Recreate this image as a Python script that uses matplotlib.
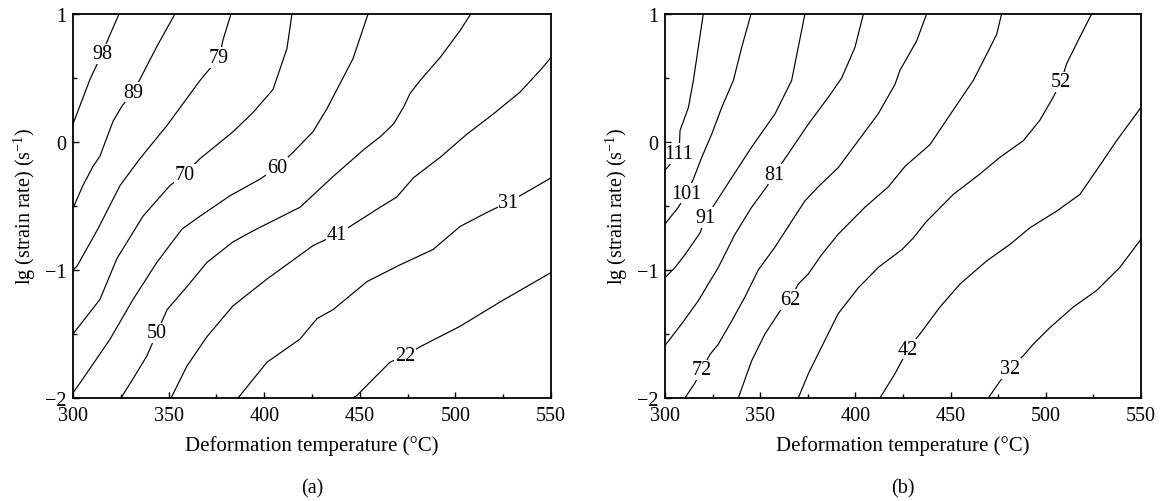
import matplotlib
matplotlib.use("Agg")
import matplotlib.pyplot as plt
from matplotlib.ticker import MultipleLocator

plt.rcParams.update({
    "font.family": ["Liberation Serif", "DejaVu Serif"],
    "font.size": 14,
    "mathtext.fontset": "custom",
    "mathtext.rm": "Liberation Serif",
    "mathtext.it": "Liberation Serif:italic",
})

# contour lines: (temperature degC, lg strain rate)
# panel (a)
a98 = [(300, 0.14), (308.9, 0.49), (315.2, 0.69), (319.4, 0.84), (324.1, 1.0)]
a89 = [(300.5, -0.5), (305.2, -0.34), (310.5, -0.19), (314.1, -0.11), (320.9, 0.16),
       (325.6, 0.28), (331.4, 0.39), (335.0, 0.49), (344.0, 0.75), (353.3, 1.0)]
a79 = [(300, -1.0), (302.1, -0.97), (313.0, -0.68), (324.6, -0.34), (335.0, -0.13),
       (349.2, 0.13), (366.4, 0.48), (376.4, 0.66), (378.5, 0.80), (382.6, 1.0)]
a70 = [(300.5, -1.49), (314.1, -1.23), (323.0, -0.91), (336.6, -0.58), (350.7, -0.34),
       (358.6, -0.25), (366.4, -0.13), (383.7, 0.08), (394.1, 0.23), (404.6, 0.41),
       (411.9, 0.73), (414.5, 1.0)]
a60 = [(300.5, -1.95), (305.2, -1.85), (319.4, -1.54), (331.4, -1.23), (343.9, -0.94),
       (357.0, -0.68), (366.4, -0.58), (382.1, -0.42), (397.8, -0.29), (406.7, -0.2),
       (415.1, -0.08), (425.5, 0.08), (432.8, 0.26), (446.4, 0.65), (454.3, 1.0)]
a50 = [(325.1, -2.0), (331.4, -1.85), (338.7, -1.67), (343.9, -1.49), (349.2, -1.31),
       (359.6, -1.13), (370.1, -0.94), (383.7, -0.78), (396.0, -0.68), (418.7, -0.51),
       (436.0, -0.27), (452.0, -0.06), (460.6, 0.04), (467.6, 0.14), (472.8, 0.27),
       (476.3, 0.38), (481.5, 0.48), (492.0, 0.66), (502.4, 0.87), (508.0, 1.0)]
a41 = [(351.3, -2.0), (359.6, -1.75), (370.1, -1.52), (383.7, -1.28), (401.5, -1.07),
       (425.5, -0.81), (438.1, -0.72), (444.9, -0.66), (460.6, -0.51), (469.3, -0.43),
       (478.0, -0.28), (492.0, -0.12), (505.9, 0.06), (519.9, 0.22), (533.8, 0.39),
       (544.3, 0.56), (550, 0.66)]
a31 = [(386.3, -2.0), (401.5, -1.72), (418.7, -1.54), (427.6, -1.38), (436.0, -1.31),
       (453.8, -1.09), (471.0, -0.96), (488.3, -0.84), (502.4, -0.66), (516.5, -0.55),
       (527.7, -0.47), (533.8, -0.42), (550, -0.28)]
a22 = [(446.4, -2.0), (448.5, -1.98), (465.8, -1.72), (473.6, -1.67), (481.5, -1.6),
       (502.4, -1.44), (523.3, -1.25), (550, -1.02)]
A_LINES = [a98, a89, a79, a70, a60, a50, a41, a31, a22]
A_LEVELS = [98, 89, 79, 70, 60, 50, 41, 31, 22]
A_LABEL_T = [315.2, 331.4, 376.4, 358.6, 406.7, 343.9, 438.1, 527.7, 473.6]
A_LABEL_LG = [0.69, 0.39, 0.66, -0.25, -0.2, -1.49, -0.72, -0.47, -1.67]

# panel (b)
b111 = [(320.1, 1.0), (317.5, 0.74), (314.9, 0.48), (312.3, 0.27), (307.9, 0.09),
        (307.4, -0.09), (301.8, -0.19), (300, -0.22)]
b101 = [(345.2, 1.0), (340.3, 0.74), (335.9, 0.48), (329.8, 0.27), (324.5, 0.06),
        (319.3, -0.12), (314.9, -0.29), (311.4, -0.4), (307.0, -0.51), (300, -0.64)]
b91 = [(373.5, 1.0), (370.0, 0.74), (366.5, 0.48), (357.8, 0.22), (345.5, -0.04),
       (335.0, -0.28), (326.3, -0.48), (321.5, -0.59), (318.4, -0.71), (310.5, -0.88),
       (305.3, -0.98), (300, -1.06)]
b81 = [(404.2, 1.0), (399.8, 0.74), (392.8, 0.5), (385.8, 0.35), (375.3, 0.14),
       (363.0, -0.13), (357.4, -0.25), (353.4, -0.35), (345.5, -0.51), (336.8, -0.72),
       (328.0, -0.98), (317.5, -1.24), (308.8, -1.42), (300, -1.59)]
b72 = [(437.4, 1.0), (432.2, 0.79), (423.4, 0.56), (420.8, 0.45), (412.0, 0.22),
       (401.5, 0.01), (391.0, -0.2), (380.5, -0.35), (373.5, -0.46), (366.5, -0.62),
       (357.8, -0.82), (349.0, -1.0), (342.0, -1.21), (335.0, -1.4), (328.0, -1.58),
       (323.6, -1.66), (319.3, -1.78), (315.8, -1.88), (310.5, -2.0)]
b62 = [(476.8, 1.0), (474.2, 0.84), (469.8, 0.71), (461.9, 0.48), (451.4, 0.25),
       (439.2, -0.02), (426.1, -0.19), (417.3, -0.35), (405.0, -0.51), (391.0, -0.72),
       (382.3, -0.88), (375.3, -1.03), (370.0, -1.11), (365.7, -1.23), (360.4, -1.32),
       (352.5, -1.5), (345.5, -1.71), (338.5, -2.0)]
b52 = [(524.1, 1.0), (517.9, 0.82), (510.9, 0.61), (508.0, 0.47), (503.9, 0.35),
       (496.9, 0.17), (488.2, 0.01), (475.9, -0.12), (465.4, -0.25), (451.4, -0.41),
       (437.4, -0.62), (430.4, -0.75), (424.5, -0.84), (412.0, -0.98), (401.5, -1.14),
       (391.0, -1.34), (382.3, -1.6), (375.3, -1.81), (370.0, -2.0)]
b42 = [(550, 0.27), (537.2, 0.01), (526.7, -0.22), (517.9, -0.41), (505.7, -0.54),
       (491.7, -0.67), (481.2, -0.8), (468.9, -0.93), (454.9, -1.11), (444.4, -1.29),
       (433.9, -1.5), (427.6, -1.62), (420.8, -1.81), (412.9, -2.0)]
b32 = [(550, -0.76), (538.9, -0.98), (526.7, -1.16), (514.4, -1.29), (502.2, -1.45),
       (493.4, -1.58), (488.2, -1.67), (481.2, -1.77), (475.9, -1.87), (469.8, -2.0)]
B_LINES = [b111, b101, b91, b81, b72, b62, b52, b42, b32]
B_LEVELS = [111, 101, 91, 81, 72, 62, 52, 42, 32]
B_LABEL_T = [307.4, 311.4, 321.5, 357.4, 319.3, 365.7, 508.0, 427.6, 481.2]
B_LABEL_LG = [-0.09, -0.4, -0.59, -0.25, -1.78, -1.23, 0.47, -1.62, -1.77]

PANELS = [
    ("(a)", A_LINES, A_LEVELS, A_LABEL_T, A_LABEL_LG),
    ("(b)", B_LINES, B_LEVELS, B_LABEL_T, B_LABEL_LG),
]


def draw_panel(ax, lines, levels, lab_t, lab_lg, tag):
    for pts in lines:
        t, lg = zip(*pts)
        ax.plot(t, lg, color="black", lw=0.85, zorder=2)
    for lev, t, lg in zip(levels, lab_t, lab_lg):
        ax.text(t, lg, str(lev), ha="center", va="center", fontsize=14.5,
                bbox=dict(fc="white", ec="none", pad=0.5), zorder=2.2)
    ax.set_xlim(300, 550)
    ax.set_ylim(-2, 1)
    ax.xaxis.set_major_locator(MultipleLocator(50))
    ax.xaxis.set_minor_locator(MultipleLocator(25))
    ax.yaxis.set_major_locator(MultipleLocator(1))
    ax.yaxis.set_minor_locator(MultipleLocator(0.5))
    ax.tick_params(which="both", direction="in", top=False, right=False,
                   width=1.0, labelsize=14.5)
    ax.tick_params(axis="x", which="both", pad=6)
    ax.tick_params(axis="y", which="both", pad=5)
    ax.tick_params(which="major", length=4.5)
    ax.tick_params(which="minor", length=3)
    for sp in ax.spines.values():
        sp.set_linewidth(1.3)
    ax.set_xlabel("Deformation temperature (°C)", fontsize=15, labelpad=7)
    ax.set_ylabel("lg (strain rate) (s$^{-1}$)", fontsize=14.5, labelpad=5)
    ax.text(0.5, -0.235, tag, transform=ax.transAxes, ha="center", va="center",
            fontsize=14.5)


fig = plt.figure(figsize=(11.64, 5.02), dpi=100)
ax_a = fig.add_axes([0.0627, 0.2052, 0.4107, 0.7649])
ax_b = fig.add_axes([0.5713, 0.2052, 0.4089, 0.7649])
for ax, (tag, lines, levels, lt, llg) in zip([ax_a, ax_b], PANELS):
    draw_panel(ax, lines, levels, lt, llg, tag)

fig.savefig("out.png", dpi=100)
